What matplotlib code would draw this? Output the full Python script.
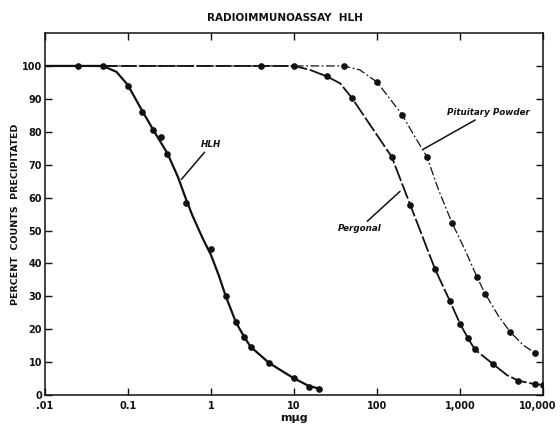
"""Radioimmunoassay HLH: percent counts precipitated vs dose (mμg)."""

import matplotlib

matplotlib.use("Agg")
import matplotlib.pyplot as plt  # noqa: E402
from matplotlib.transforms import ScaledTranslation  # noqa: E402

INK = "#111111"

# Plotted points
HLH_X = [0.025, 0.05, 0.1, 0.15, 0.2, 0.25, 0.3, 0.5, 1, 1.5, 2, 2.5, 3, 5,
         10, 15, 20]
HLH_Y = [100, 100, 94, 86, 80.5, 78.3, 73.4, 58.4, 44.4, 30, 22.1, 17.8,
         14.7, 9.8, 5.1, 2.6, 2.0]
PERG_X = [4, 10, 25, 50, 150, 250, 500, 750, 1000, 1250, 1500, 2500, 5000,
          8000, 10000]
PERG_Y = [100, 100, 96.8, 90.2, 72.4, 57.9, 38.2, 28.7, 21.6, 17.2, 13.9,
          9.4, 4.4, 3.3, 3.1]
PIT_X = [40, 100, 200, 400, 800, 1600, 2000, 4000, 8000]
PIT_Y = [100, 95.1, 85.2, 72.3, 52.3, 35.8, 30.8, 19.2, 12.8]

# Drawn curves (incl. stretches between points)
HLH_LX = [0.01, 0.05, 0.073, 0.1, 0.15, 0.2, 0.3, 0.4, 0.5, 0.6, 0.8, 1,
          1.25, 1.5, 2, 2.5, 3, 5, 7.4, 10, 15, 20]
HLH_LY = [100, 100, 98.2, 94.2, 86.2, 80.8, 73.4, 66.3, 59.6, 54.5, 47.5,
          42.6, 36.2, 30.2, 22.1, 17.8, 14.7, 9.8, 7.1, 5.1, 2.8, 2.0]
PERG_LX = [0.01, 10, 15.6, 25, 36, 50, 86, 150, 250, 500, 750, 1000, 1250,
           1500, 2500, 3650, 5000, 8000, 10000]
PERG_LY = [100, 100, 98.8, 96.8, 94.7, 90.2, 81.4, 72.4, 57.9, 38.2, 28.7,
           21.6, 17.2, 13.9, 9.4, 6.1, 4.4, 3.3, 3.1]
PIT_LX = [0.01, 40, 62, 100, 200, 273, 400, 548, 800, 1150, 1600, 2000, 2900,
          4000, 5800, 8000]
PIT_LY = [100, 100, 98.8, 95.1, 85.2, 79.3, 72.3, 62.4, 52.3, 44.0, 35.8,
          30.8, 24.0, 19.2, 15.1, 12.8]

X_TICKS = [0.01, 0.1, 1, 10, 100, 1000, 10000]
X_LABELS = [".01", "0.1", "1", "10", "100", "1,000", "10,000"]
Y_TICKS = list(range(0, 101, 10))

fig = plt.figure(figsize=(5.6, 4.29), dpi=100)
ax = fig.add_axes((0.080, 0.079, 0.890, 0.844))

mk = dict(marker="o", ms=3.8, color=INK, ls="none", zorder=4)

ax.plot(HLH_LX, HLH_LY, color=INK, lw=1.6, zorder=3)
ax.plot(HLH_X, HLH_Y, **mk)

ax.plot(PERG_LX, PERG_LY, color=INK, lw=1.3, ls=(0, (9, 1.5)), zorder=3)
ax.plot(PERG_X, PERG_Y, **mk)

ax.plot(PIT_LX, PIT_LY, color=INK, lw=0.9, ls=(0, (7, 2, 1.5, 2)), zorder=3)
ax.plot(PIT_X, PIT_Y, **mk)

ax.set_xscale("log")
ax.set_xlim(0.01, 10000)
ax.set_ylim(0, 110)
ax.set_xticks(X_TICKS)
ax.set_xticklabels(X_LABELS)
ax.set_yticks(Y_TICKS)
ax.minorticks_off()
ax.tick_params(direction="in", length=5, width=1, colors=INK,
               labelsize=7, top=True, right=True, pad=4)
ax.tick_params(axis="y", pad=2)
for lab in ax.get_xticklabels() + ax.get_yticklabels():
    lab.set_fontweight("bold")
# keep the last x label inside the canvas, as in the print
last = ax.get_xticklabels()[-1]
last.set_transform(last.get_transform()
                   + ScaledTranslation(-4 / 72, 0, fig.dpi_scale_trans))
for s in ax.spines.values():
    s.set_linewidth(1.1)
    s.set_color(INK)

ax.set_xlabel("mμg", fontsize=8, fontweight="bold", color=INK, labelpad=2)
ax.set_ylabel("PERCENT  COUNTS  PRECIPITATED", fontsize=6.8,
              fontweight="bold", color=INK)
ax.yaxis.set_label_coords(-0.049, 0.5)
fig.text(0.508, 0.957, "RADIOIMMUNOASSAY  HLH", ha="center", va="center",
         fontsize=7.5, fontweight="bold", color=INK)

lab = dict(fontsize=6.3, fontweight="bold", style="italic", color=INK)
arr = dict(arrowstyle="-", color=INK, lw=1.1, shrinkA=0, shrinkB=0)
ax.annotate("HLH", xy=(0.44, 65.5), xytext=(0.75, 76.0), va="center",
            arrowprops=arr, **lab)
ax.annotate("Pituitary Powder", xy=(360, 74.7), xytext=(690, 85.8),
            va="center", arrowprops=arr, **lab)
ax.annotate("Pergonal", xy=(189, 61.9), xytext=(112, 50.6), va="center",
            ha="right", arrowprops=arr, **lab)

fig.savefig("out.png")
